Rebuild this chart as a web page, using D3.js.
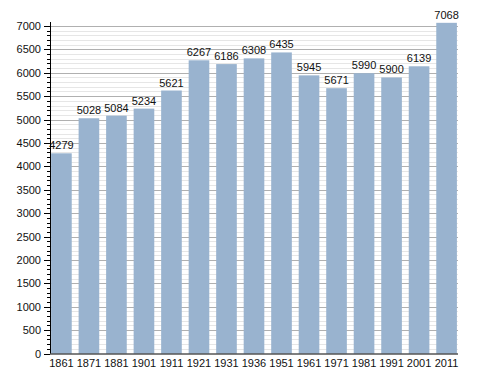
<!DOCTYPE html>
<html><head><meta charset="utf-8">
<script src="https://cdn.jsdelivr.net/npm/d3@7"></script>
<style>body{margin:0;background:#fff}svg{display:block}text{font-family:"Liberation Sans",Arial,sans-serif;}</style>
</head><body>
<svg id="c" width="488" height="373"></svg>
<script>
const years = ["1861","1871","1881","1901","1911","1921","1931","1936","1951","1961","1971","1981","1991","2001","2011"];
const population = [4279,5028,5084,5234,5621,6267,6186,6308,6435,5945,5671,5990,5900,6139,7068];
const yMajorTicks = [0,500,1000,1500,2000,2500,3000,3500,4000,4500,5000,5500,6000,6500,7000];

(function(){
const svg = d3.select("#c");
const pl = 50, pr = 458, pt = 26, pb = 353.5;
const x = d3.scaleBand().domain(years).range([pl, pr]).paddingInner(0.25).paddingOuter(0.04);
const y = d3.scaleLinear().domain([0,7000]).range([pb, pt]);
const minor = d3.range(0, 7001, 100);
const py = d => Math.round(y(d)) + 0.5;

// grid
svg.append("g").selectAll("line").data(minor.filter(v => v % 500 !== 0)).join("line")
  .attr("x1", pl).attr("x2", pr).attr("y1", py).attr("y2", py)
  .attr("stroke", "#e6e6e6").attr("stroke-width", 1);
svg.append("g").selectAll("line").data(yMajorTicks.filter(v => v > 0)).join("line")
  .attr("x1", pl).attr("x2", pr).attr("y1", py).attr("y2", py)
  .attr("stroke", "#b0b0b0").attr("stroke-width", 1);

// bars
svg.append("g").selectAll("rect").data(population).join("rect")
  .attr("x", (d,i) => x(years[i])).attr("width", x.bandwidth())
  .attr("y", d => y(d)).attr("height", d => y(0) - y(d))
  .attr("fill", "#99b3cf");

// value labels
svg.append("g").selectAll("text").data(population).join("text")
  .attr("x", (d,i) => x(years[i]) + x.bandwidth()/2).attr("y", d => y(d) - 4)
  .attr("text-anchor", "middle").attr("font-size", 11).attr("fill", "#111")
  .text(d => d);

// y axis
const ya = svg.append("g");
ya.append("line").attr("x1", pl+0.5).attr("x2", pl+0.5).attr("y1", pt-4).attr("y2", pb).attr("stroke", "#000");
ya.selectAll("line.mn").data(minor.filter(v => v % 500 !== 0)).join("line").attr("class","mn")
  .attr("x1", pl-3).attr("x2", pl).attr("y1", py).attr("y2", py).attr("stroke", "#000");
ya.selectAll("line.mj").data(yMajorTicks).join("line").attr("class","mj")
  .attr("x1", pl-6).attr("x2", pl).attr("y1", py).attr("y2", py).attr("stroke", "#000");
ya.selectAll("text").data(yMajorTicks).join("text")
  .attr("x", pl-9).attr("y", d => y(d) + 4).attr("text-anchor", "end")
  .attr("font-size", 11).attr("fill", "#111").text(d => d);

// x axis
const xa = svg.append("g");
xa.append("line").attr("x1", pl).attr("x2", pr).attr("y1", pb+0.5).attr("y2", pb+0.5).attr("stroke", "#000");
xa.selectAll("text").data(years).join("text")
  .attr("x", d => x(d) + x.bandwidth()/2).attr("y", pb + 13)
  .attr("text-anchor", "middle").attr("font-size", 11).attr("fill", "#111").text(d => d);
})();
</script>
</body></html>
